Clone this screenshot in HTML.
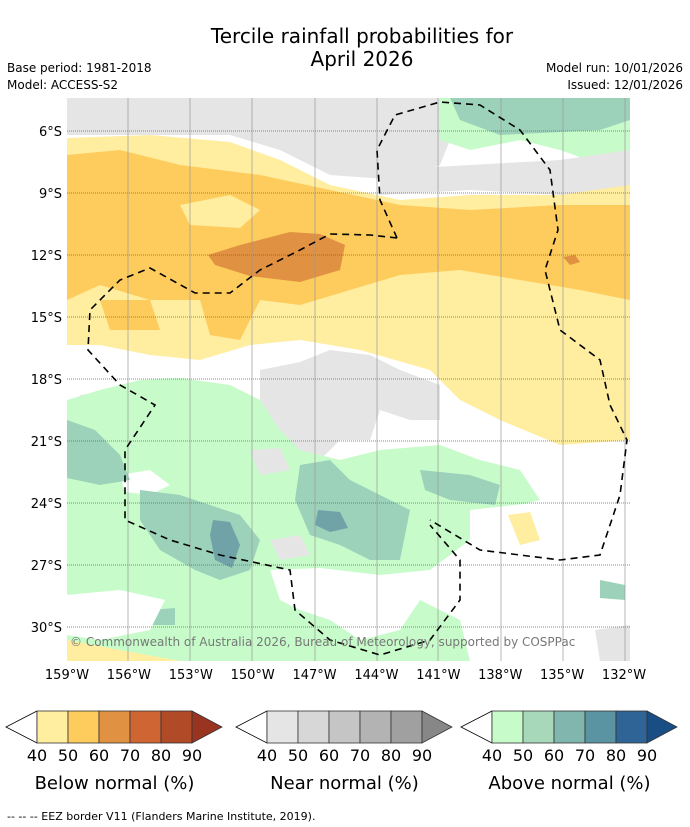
<!DOCTYPE html>
<html><head><meta charset="utf-8">
<style>
body{margin:0;background:#fff;width:690px;height:827px;overflow:hidden;font-family:"DejaVu Sans","Liberation Sans",sans-serif;}
svg{display:block}
</style></head><body>
<svg width="690" height="827" viewBox="0 0 690 827">
<text x="362" y="43" font-size="20" text-anchor="middle">Tercile rainfall probabilities for</text>
<text x="362" y="66" font-size="20" text-anchor="middle">April 2026</text>
<text x="7" y="72" font-size="12">Base period: 1981-2018</text>
<text x="7" y="89" font-size="12">Model: ACCESS-S2</text>
<text x="683" y="72" font-size="12" text-anchor="end">Model run: 10/01/2026</text>
<text x="683" y="89" font-size="12" text-anchor="end">Issued: 12/01/2026</text>
<defs><clipPath id="mc"><rect x="67" y="98" width="563" height="563"/></clipPath></defs>
<g clip-path="url(#mc)">
<rect x="67" y="98" width="563" height="563" fill="#fff"/>
<path d="M67 98H450V140L440 165L400 180L330 175L280 150L230 135L67 135Z" fill="#e5e5e5"/>
<path d="M440 98H630V175L560 150L520 140L470 150L440 140Z" fill="#c7fcca"/>
<path d="M450 98H630V120L600 130L500 135L460 120Z" fill="#9cd2ba"/>
<path d="M380 170L470 165L560 160L630 150V200L560 195L470 190L380 195Z" fill="#e5e5e5"/>
<path d="M67 138L150 135L230 142L280 160L330 185L400 200L470 195L560 195L630 185V440L560 445L500 420L460 400L430 370L360 350L300 340L250 345L200 360L150 355L100 345L67 345Z" fill="#ffeda0"/>
<path d="M67 155L120 150L180 165L260 175L330 190L400 205L470 210L560 205L630 205V300L580 290L520 280L460 270L400 275L350 290L300 305L260 300L240 340L210 335L200 300L150 300L100 285L67 300Z" fill="#fecc5c"/>
<path d="M180 205L230 195L260 210L240 228L190 225Z" fill="#ffeda0"/>
<path d="M100 300L150 300L160 330L110 330Z" fill="#fecc5c"/>
<path d="M208 255L240 245L290 232L320 234L345 245L340 270L300 282L250 276L215 265Z" fill="#e09142"/>
<path d="M563 257L575 255L580 262L570 265Z" fill="#e09142"/>
<path d="M260 370L300 362L330 350L370 355L400 370L440 385L440 420L410 420L380 410L370 440L340 440L320 460L290 455L270 440L260 400Z" fill="#e5e5e5"/>
<path d="M80 395L120 390L125 415L90 420Z" fill="#e5e5e5"/>
<path d="M67 400L100 390L140 380L180 378L230 385L260 400L280 430L300 450L340 460L380 450L440 445L480 460L520 470L540 500L500 510L470 540L430 570L420 600L460 620L470 661H67Z" fill="#c7fcca"/>
<path d="M120 475L150 470L170 485L150 495L125 492Z" fill="#fff"/>
<path d="M250 450L280 448L290 470L260 475Z" fill="#e5e5e5"/>
<path d="M270 540L300 535L310 555L280 560Z" fill="#e5e5e5"/>
<path d="M67 420L95 430L120 455L130 480L100 485L67 478Z" fill="#9cd2ba"/>
<path d="M140 490L180 495L210 505L240 515L260 540L250 570L220 580L195 570L160 550L140 520Z" fill="#9cd2ba"/>
<path d="M300 465L330 460L350 480L380 495L410 510L400 560L370 560L340 545L310 535L295 500Z" fill="#9cd2ba"/>
<path d="M420 470L470 475L500 485L495 505L450 500L425 490Z" fill="#9cd2ba"/>
<path d="M150 610L175 608L175 625L150 625Z" fill="#9cd2ba"/>
<path d="M600 580L625 585L625 600L600 598Z" fill="#9cd2ba"/>
<path d="M213 520L230 522L240 545L232 568L215 560L210 535Z" fill="#6fa3a8"/>
<path d="M318 510L340 512L348 528L330 532L315 525Z" fill="#6fa3a8"/>
<path d="M270 570L320 568L380 575L430 570L420 600L400 630L360 640L330 620L300 610L280 600Z" fill="#fff"/>
<path d="M470 510L560 500L630 490V540L600 560L580 600L630 630V661H480L470 600Z" fill="#fff"/>
<path d="M67 595L120 590L165 600L150 630L100 640L67 635Z" fill="#fff"/>
<path d="M508 515L530 512L540 540L520 545Z" fill="#ffeda0"/>
<path d="M67 640L120 650L180 661H67Z" fill="#ffeda0"/>
<path d="M595 630L630 625V661H600Z" fill="#e5e5e5"/>
<g fill="none">
<path d="M67 131H630M67 193H630M67 255H630M67 317H630M67 379H630M67 441H630M67 503H630M67 565H630M67 627H630" stroke="#666" stroke-width="0.7" stroke-dasharray="1,1"/>
<path d="M128 98V661M190 98V661M252 98V661M315 98V661M377 98V661M438 98V661M501 98V661M563 98V661M625 98V661" stroke="#999" stroke-width="0.7"/>
</g>
<g stroke="#000" stroke-width="1.6" stroke-dasharray="7,5" fill="none">
<path d="M397 238L380 200L377 150L395 115L440 102L480 105L520 130L550 170L558 230L545 270L560 330L600 360L610 405L627 440L620 495L600 555L560 560L520 555L480 550L430 520"/>
<path d="M397 238L370 235L330 234L300 250L260 270L230 293L195 293L150 268L120 280L90 310L88 350L120 385L155 405L125 450L125 520L170 540L220 555L290 570L295 610L330 640L380 655L430 640L460 600L460 560L430 525"/>
</g>
<text x="70" y="646" font-size="12" fill="#777">© Commonwealth of Australia 2026, Bureau of Meteorology, supported by COSPPac</text>
</g>
<g id="axes" font-size="13"></g>
<g id="bars"></g>
<text x="7" y="820" font-size="11">--  --  -- EEZ border V11 (Flanders Marine Institute, 2019).</text>
</svg>
<script>
const lonTicks=[159,156,153,150,147,144,141,138,135,132];
const latTicks=[6,9,12,15,18,21,24,27,30];
const cbLabels=[40,50,60,70,80,90];
const cbTitles=["Below normal (%)","Near normal (%)","Above normal (%)"];
const cbColors=[["#ffeda0","#fecc5c","#e09142","#cf6533","#b04a27","#993421"],["#e5e5e5","#d7d7d7","#c5c5c5","#b3b3b3","#a0a0a0","#878787"],["#c7fcca","#a7d8b9","#80b6ae","#5a93a1","#2f6496","#184e84"]];
const NS="http://www.w3.org/2000/svg";
const xs=l=>67+(159-l)*20.63, ys=l=>131+(l-6)*20.67;
const ax=document.getElementById('axes');
function mk(t,a,p){const e=document.createElementNS(NS,t);for(const k in a)e.setAttribute(k,a[k]);p.appendChild(e);return e;}
lonTicks.forEach(l=>{const t=mk('text',{x:xs(l),y:679,'text-anchor':'middle'},ax);t.textContent=l+'°W';

});
latTicks.forEach(l=>{const t=mk('text',{x:62,y:ys(l)+5,'text-anchor':'end'},ax);t.textContent=l+'°S';

});
const bars=document.getElementById('bars');
const starts=[37,267,492];
starts.forEach((x0,i)=>{const w=31,y0=711,h=32;
 const L=mk('polygon',{points:`${x0},${y0} ${x0-31},${y0+h/2} ${x0},${y0+h}`,fill:'#fff',stroke:'#000','stroke-width':0.8},bars);
 
 
 for(let j=0;j<5;j++){const r=mk('rect',{x:x0+j*w,y:y0,width:w,height:h,fill:cbColors[i][j],stroke:'#333','stroke-width':0.8},bars);
 
 }
 const xe=x0+5*w;
 const R=mk('polygon',{points:`${xe},${y0} ${xe+30},${y0+h/2} ${xe},${y0+h}`,fill:cbColors[i][5],stroke:'#333','stroke-width':0.8},bars);
 
 
 cbLabels.forEach((v,j)=>{const t=mk('text',{x:x0+j*w,y:761,'font-size':16,'text-anchor':'middle'},bars);t.textContent=v;
 
 });
 const tt=mk('text',{x:x0+2.5*w,y:789,'font-size':18,'text-anchor':'middle'},bars);tt.textContent=cbTitles[i];
 
 
});
</script>
</body></html>
